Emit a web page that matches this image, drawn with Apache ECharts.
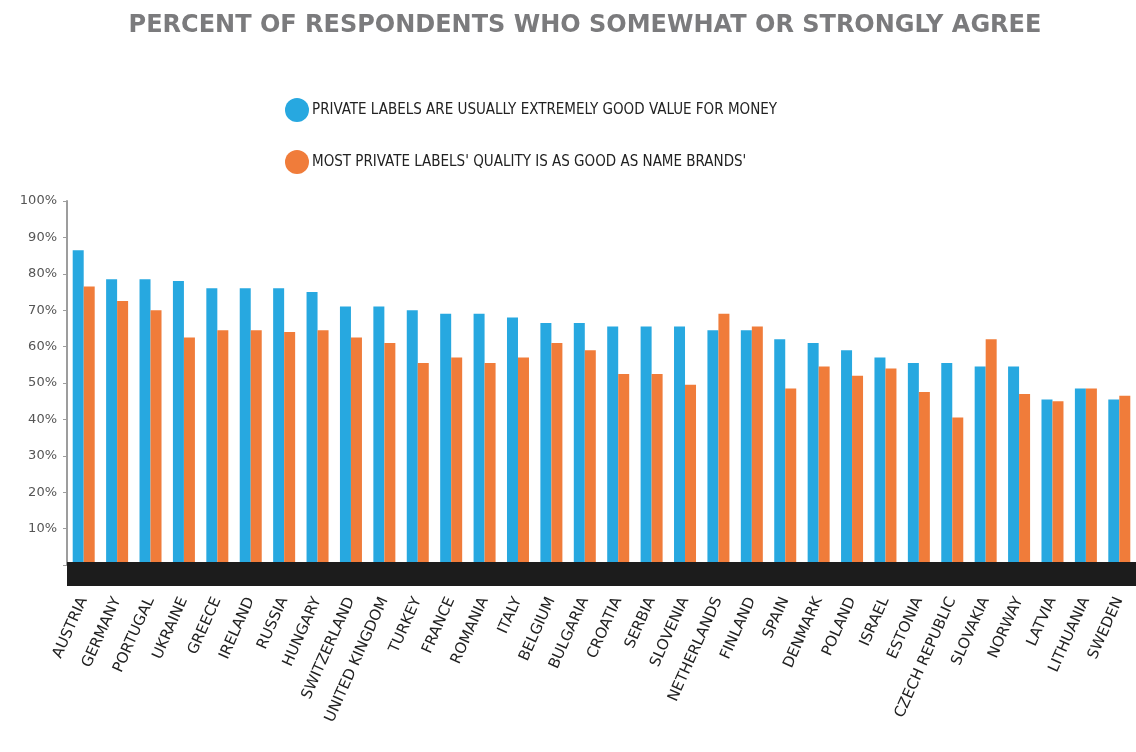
<!DOCTYPE html>
<html>
<head>
<meta charset="utf-8">
<script src="https://cdn.jsdelivr.net/npm/echarts@6/dist/echarts.min.js"></script>
<style>
  html, body { margin: 0; padding: 0; background: #ffffff; }
  #chart { width: 1136px; height: 752px; }
</style>
</head>
<body>
<div id="chart"></div>
<script>
const categories = ['AUSTRIA','GERMANY','PORTUGAL','UKRAINE','GREECE','IRELAND','RUSSIA','HUNGARY','SWITZERLAND','UNITED KINGDOM','TURKEY','FRANCE','ROMANIA','ITALY','BELGIUM','BULGARIA','CROATIA','SERBIA','SLOVENIA','NETHERLANDS','FINLAND','SPAIN','DENMARK','POLAND','ISRAEL','ESTONIA','CZECH REPUBLIC','SLOVAKIA','NORWAY','LATVIA','LITHUANIA','SWEDEN'];
const goodValue = [86.5,78.5,78.5,78,76,76,76,75,71,71,70,69,69,68,66.5,66.5,65.5,65.5,65.5,64.5,64.5,62,61,59,57,55.5,55.5,54.5,54.5,45.5,48.5,45.5];
const goodQuality = [76.5,72.5,70,62.5,64.5,64.5,64,64.5,62.5,61,55.5,57,55.5,57,61,59,52.5,52.5,49.5,69,65.5,48.5,54.5,52,54,47.5,40.5,62,47,45,48.5,46.5];
const yTicks = [0,10,20,30,40,50,60,70,80,90,100];
const seriesNames = ['PRIVATE LABELS ARE USUALLY EXTREMELY GOOD VALUE FOR MONEY', "MOST PRIVATE LABELS' QUALITY IS AS GOOD AS NAME BRANDS'"];
const titleText = 'PERCENT OF RESPONDENTS WHO SOMEWHAT OR STRONGLY AGREE';

const chart = echarts.init(document.getElementById('chart'), null, {renderer: 'canvas'});
chart.setOption({
  backgroundColor: '#ffffff',
  animation: false,
  title: {
    text: titleText,
    left: 580,
    textAlign: 'center',
    top: 9,
    textStyle: { fontFamily: '"DejaVu Sans", sans-serif', fontWeight: 'bold', fontSize: 24, color: '#7b7b7d' }
  },
  legend: {
    orient: 'vertical',
    left: 280,
    top: 93,
    itemWidth: 24,
    itemHeight: 24,
    itemGap: 28,
    icon: 'circle',
    textStyle: { fontFamily: '"Liberation Sans Narrow", "DejaVu Sans Condensed", "Liberation Sans", sans-serif', fontSize: 15, color: '#222222', padding: [0,0,0,-2] },
    data: seriesNames
  },
  grid: { left: 67, right: -5, top: 201, bottom: 187, containLabel: false },
  xAxis: {
    type: 'category',
    data: categories,
    offset: 9,
    z: 10,
    axisLine: { show: true, onZero: false, lineStyle: { color: '#1c1c1c', width: 24, cap: 'butt' } },
    axisTick: { show: false },
    axisLabel: {
      interval: 0,
      rotate: 66,
      margin: 24,
      fontFamily: '"DejaVu Sans", sans-serif',
      fontSize: 15,
      color: '#222222'
    }
  },
  yAxis: {
    type: 'value',
    min: 0,
    max: 100,
    interval: 10,
    splitLine: { show: false },
    axisLine: { show: true, lineStyle: { color: '#9d9d9d', width: 2 } },
    axisTick: { show: true, length: 4, lineStyle: { color: '#9d9d9d' } },
    axisLabel: {
      margin: 10,
      fontFamily: '"DejaVu Sans", sans-serif',
      fontSize: 13,
      color: '#555555',
      formatter: function (v) { return v === 0 ? '' : v + '%'; }
    }
  },
  series: [
    { name: seriesNames[0], type: 'bar', data: goodValue, barWidth: 11, barGap: '0%', itemStyle: { color: '#27a8e0' } },
    { name: seriesNames[1], type: 'bar', data: goodQuality, barWidth: 11, barGap: '0%', itemStyle: { color: '#f07c3a' } }
  ]
});
</script>
</body>
</html>
